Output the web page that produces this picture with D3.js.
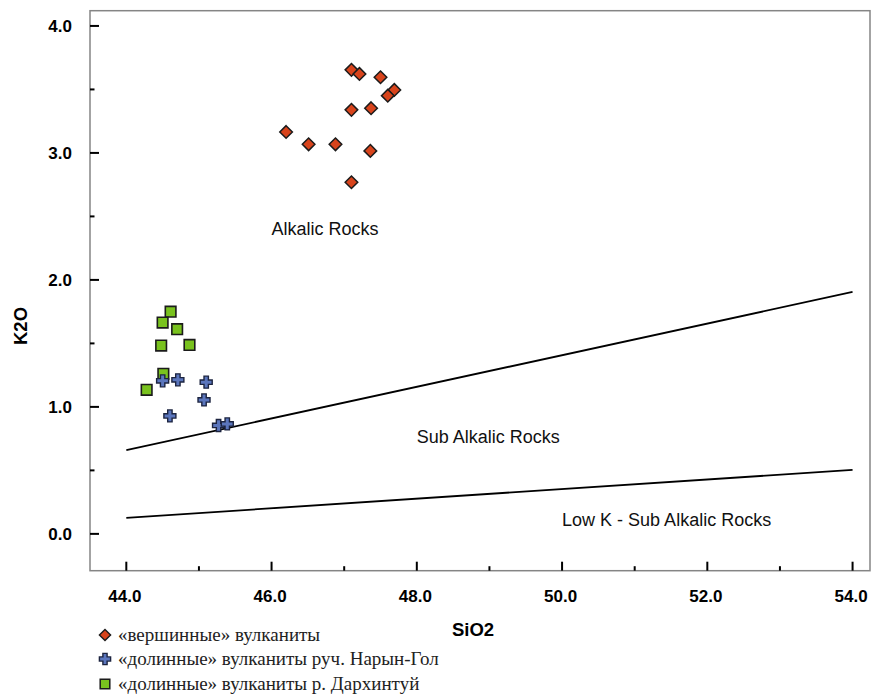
<!DOCTYPE html>
<html><head><meta charset="utf-8">
<script src="https://cdn.jsdelivr.net/npm/d3@7"></script>
<style>
html,body{margin:0;padding:0;background:#fff;}
svg{display:block;}
</style></head>
<body><svg id="chart" width="871" height="700"></svg>
<script>
// ---- data ----
const summitSiO2 = [47.10, 47.21, 47.50, 47.69, 47.60, 47.10, 47.37, 46.20, 46.51, 46.88, 47.36, 47.10];
const summitK2O  = [3.654, 3.622, 3.596, 3.496, 3.451, 3.339, 3.352, 3.165, 3.068, 3.068, 3.016, 2.769];
const narynSiO2 = [44.50, 44.71, 45.10, 45.07, 44.60, 45.27, 45.39];
const narynK2O  = [1.205, 1.213, 1.195, 1.055, 0.929, 0.854, 0.866];
const darkhSiO2 = [44.61, 44.50, 44.70, 44.48, 44.87, 44.51, 44.28];
const darkhK2O  = [1.750, 1.664, 1.612, 1.483, 1.488, 1.260, 1.134];
const upperLineSiO2 = [44, 54];
const upperLineK2O  = [0.66, 1.905];
const lowerLineSiO2 = [44, 54];
const lowerLineK2O  = [0.126, 0.504];
const xTicks = [44, 46, 48, 50, 52, 54];
const xMinorTicks = [45, 47, 49, 51, 53];
const yTicks = [0, 1, 2, 3, 4];
const yMinorTicks = [0.5, 1.5, 2.5, 3.5];
const regionLabels = ["Alkalic Rocks", "Sub Alkalic Rocks", "Low K - Sub Alkalic Rocks"];
const regionLabelSiO2 = [46.0, 48.0, 50.0];
const regionLabelK2O = [2.35, 0.715, 0.06];
const legendLabels = ["«вершинные» вулканиты", "«долинные» вулканиты руч. Нарын-Гол", "«долинные» вулканиты р. Дархинтуй"];

// ---- chart ----
const svg = d3.select("#chart");
const L = 90, R = 870, T = 10.7, B = 570.7;
const x = d3.scaleLinear().domain([43.5, 54.24]).range([L, R]);
const y = d3.scaleLinear().domain([-0.29, 4.12]).range([B, T]);
const sans = "'Liberation Sans', Arial, sans-serif";
const serif = "'Liberation Serif', 'Times New Roman', serif";

// frame
svg.append("rect").attr("x", L).attr("y", T).attr("width", R - L).attr("height", B - T)
  .attr("fill", "#fff").attr("stroke", "#858585").attr("stroke-width", 1.5);

// ticks (inward)
const tg = svg.append("g").attr("stroke", "#000").attr("stroke-width", 2);
xTicks.forEach(v => tg.append("line").attr("x1", x(v)).attr("x2", x(v)).attr("y1", B).attr("y2", B - 9));
xMinorTicks.forEach(v => tg.append("line").attr("x1", x(v)).attr("x2", x(v)).attr("y1", B).attr("y2", B - 4.5));
yTicks.forEach(v => tg.append("line").attr("y1", y(v)).attr("y2", y(v)).attr("x1", L).attr("x2", L + 9));
yMinorTicks.forEach(v => tg.append("line").attr("y1", y(v)).attr("y2", y(v)).attr("x1", L).attr("x2", L + 4.5));

// tick labels
svg.append("g").selectAll("text").data(xTicks).join("text")
  .attr("x", d => x(d) - 1.5).attr("y", 601.5).attr("text-anchor", "middle")
  .attr("font-family", sans).attr("font-weight", "bold").attr("font-size", 17)
  .text(d => d3.format(".1f")(d));
svg.append("g").selectAll("text").data(yTicks).join("text")
  .attr("x", 72).attr("y", d => y(d) + 6).attr("text-anchor", "end")
  .attr("font-family", sans).attr("font-weight", "bold").attr("font-size", 17)
  .text(d => d3.format(".1f")(d));

// axis titles
svg.append("text").attr("x", 473).attr("y", 636).attr("text-anchor", "middle")
  .attr("font-family", sans).attr("font-weight", "bold").attr("font-size", 18.5).text("SiO2");
svg.append("text").attr("transform", "translate(27,326) rotate(-90)").attr("text-anchor", "middle")
  .attr("font-family", sans).attr("font-weight", "bold").attr("font-size", 18.5).text("K2O");

// boundary lines
const line = d3.line().x(d => x(d[0])).y(d => y(d[1]));
svg.append("path").attr("d", line(d3.zip(upperLineSiO2, upperLineK2O)))
  .attr("fill", "none").attr("stroke", "#000").attr("stroke-width", 1.8);
svg.append("path").attr("d", line(d3.zip(lowerLineSiO2, lowerLineK2O)))
  .attr("fill", "none").attr("stroke", "#000").attr("stroke-width", 1.8);

// region labels
svg.append("g").selectAll("text").data(regionLabels).join("text")
  .attr("x", (d, i) => x(regionLabelSiO2[i])).attr("y", (d, i) => y(regionLabelK2O[i]))
  .attr("font-family", sans).attr("font-size", 18).attr("fill", "#111").text(d => d);

// markers
const diamond = s => `M0,${-s}L${s},0L0,${s}L${-s},0Z`;
const square = s => `M${-s},${-s}H${s}V${s}H${-s}Z`;
const cross = (a, b) => `M${-b},${-a}H${b}V${-b}H${a}V${b}H${b}V${a}H${-b}V${b}H${-a}V${-b}H${-b}Z`;

const diamondFill = "#d8441c", crossFill = "#5b76bd", squareFill = "#79c21e";

svg.append("g").selectAll("path").data(d3.zip(darkhSiO2, darkhK2O)).join("path")
  .attr("transform", d => `translate(${x(d[0])},${y(d[1])})`)
  .attr("d", square(5.3)).attr("fill", squareFill).attr("stroke", "#1b1b1b").attr("stroke-width", 1.6);
svg.append("g").selectAll("path").data(d3.zip(narynSiO2, narynK2O)).join("path")
  .attr("transform", d => `translate(${x(d[0])},${y(d[1])})`)
  .attr("d", cross(6, 2.2)).attr("fill", crossFill).attr("stroke", "#1c2440").attr("stroke-width", 1.4);
svg.append("g").selectAll("path").data(d3.zip(summitSiO2, summitK2O)).join("path")
  .attr("transform", d => `translate(${x(d[0])},${y(d[1])})`)
  .attr("d", diamond(6.3)).attr("fill", diamondFill).attr("stroke", "#1b1b1b").attr("stroke-width", 1.5);

// legend
const legY = [641, 665, 690];
const lg = svg.append("g");
lg.append("path").attr("transform", `translate(105,${legY[0] - 6})`).attr("d", diamond(5.6))
  .attr("fill", diamondFill).attr("stroke", "#1b1b1b").attr("stroke-width", 1.4);
lg.append("path").attr("transform", `translate(105,${legY[1] - 6})`).attr("d", cross(5.6, 2.1))
  .attr("fill", crossFill).attr("stroke", "#1c2440").attr("stroke-width", 1.4);
lg.append("path").attr("transform", `translate(105,${legY[2] - 6})`).attr("d", square(4.8))
  .attr("fill", squareFill).attr("stroke", "#1b1b1b").attr("stroke-width", 1.5);
lg.selectAll("text").data(legendLabels).join("text")
  .attr("x", 118).attr("y", (d, i) => legY[i])
  .attr("font-family", serif).attr("font-size", 19).attr("fill", "#222").text(d => d);
</script>
</body></html>
